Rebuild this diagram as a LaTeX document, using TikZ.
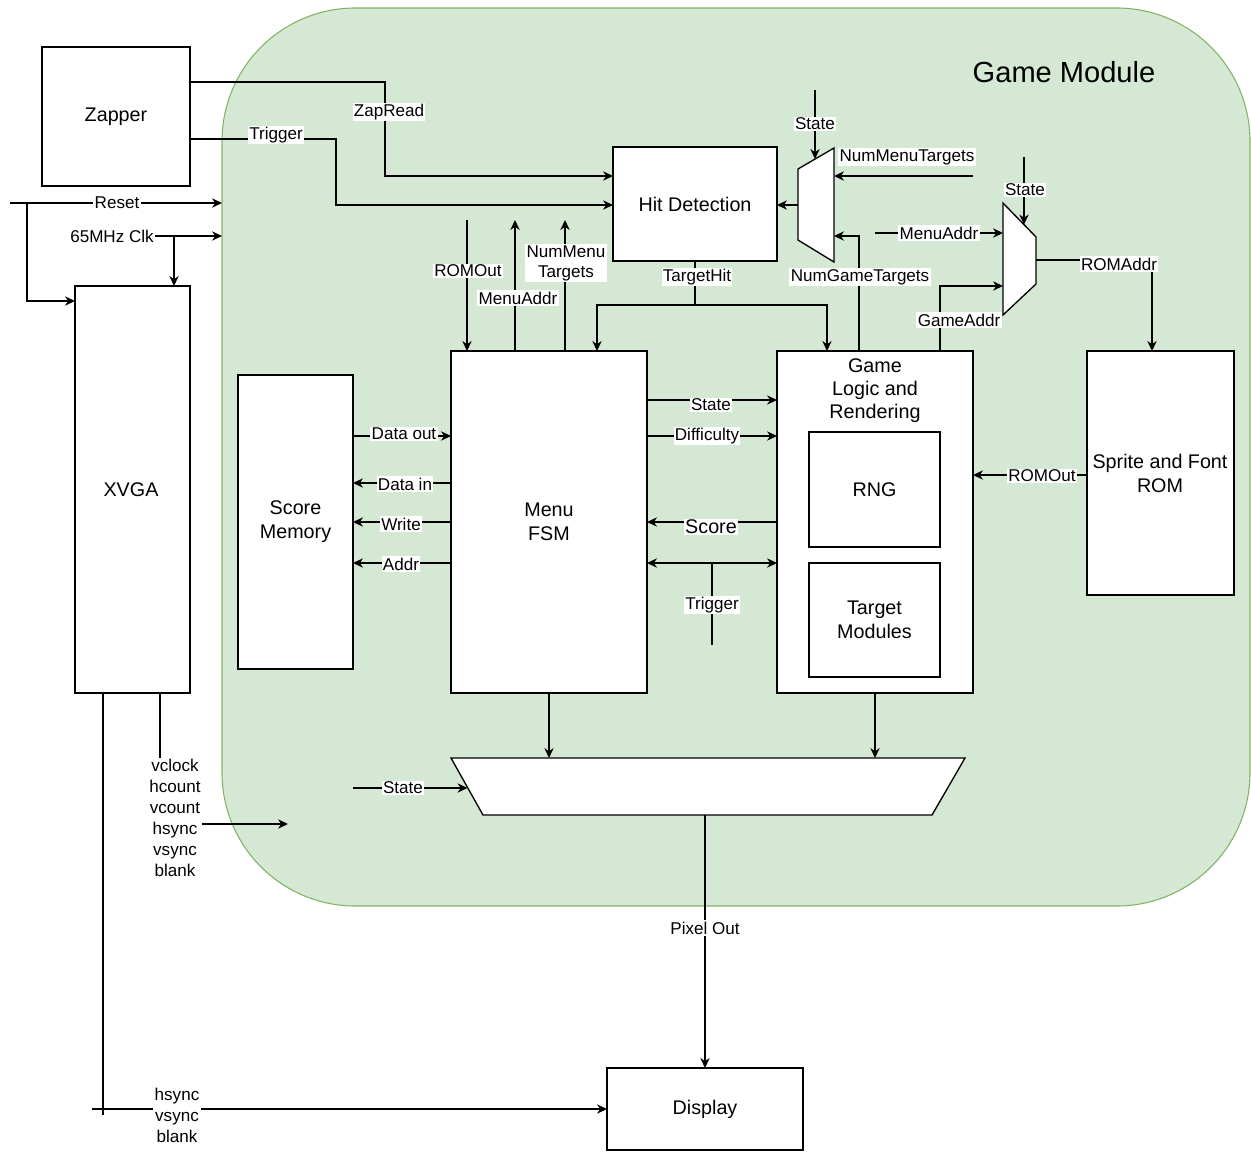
\documentclass[tikz,border=0pt]{standalone}
\usepackage{fontspec}
\setmainfont{Liberation Sans}
\usetikzlibrary{arrows.meta}
\definecolor{gmfill}{HTML}{D5E8D4}
\definecolor{gmline}{HTML}{82B366}
\newcommand{\mainsz}{\fontsize{14.8}{18}\selectfont}
\newcommand{\lblsz}{\fontsize{12.8}{15.5}\selectfont}
\begin{document}
\begin{tikzpicture}[x=0.75pt,y=-0.75pt,
  ln/.style={line width=1pt, draw=black},
  arr/.style={ln, -{Stealth[length=7.5pt,width=7pt]}},
  arrtwo/.style={ln, {Stealth[length=7.5pt,width=7pt]}-{Stealth[length=7.5pt,width=7pt]}},
  box/.style={draw, fill=white, line width=1pt, inner sep=0pt, outer sep=0pt, align=center, font=\mainsz},
  lbl/.style={fill=white, inner sep=1pt, font=\lblsz, align=center},
  txt/.style={inner sep=0pt, align=center, font=\mainsz}]
\useasboundingbox (0,0) rectangle (1251,1153);

% Game module area
\node[draw=gmline, fill=gmfill, rounded corners=100pt, line width=0.8pt, inner sep=0pt, outer sep=0pt,
  minimum width=1028*0.75pt, minimum height=898*0.75pt] (gm) at (736,457) {};
\node[inner sep=0pt, font=\fontsize{21.8}{26}\selectfont] (title) at (1064,72) {Game Module};

% Boxes
\node[box, minimum width=148*0.75pt, minimum height=139*0.75pt] (zap) at (116,116.5) {Zapper};
\node[box, minimum width=115*0.75pt, minimum height=407*0.75pt] (xvga) at (132.5,489.5) {};
\node[txt] (xvgat) at (131,490) {XVGA};
\node[box, minimum width=115*0.75pt, minimum height=294*0.75pt] (score) at (295.5,522) {Score\\Memory};
\node[box, minimum width=196*0.75pt, minimum height=342*0.75pt] (menu) at (549,522) {Menu\\FSM};
\node[box, minimum width=164*0.75pt, minimum height=114*0.75pt] (hit) at (695,204) {Hit Detection};
\node[box, minimum width=196*0.75pt, minimum height=342*0.75pt] (game) at (875,522) {};
\node[txt, font=\fontsize{14.8}{17.3}\selectfont] (gamet) at (875,391) {Game\\Logic and\\Rendering};
\node[box, minimum width=131*0.75pt, minimum height=115*0.75pt] (rng) at (874.5,489.5) {RNG};
\node[box, minimum width=131*0.75pt, minimum height=114*0.75pt] (tgt) at (874.5,620) {Target\\Modules};
\node[box, minimum width=147*0.75pt, minimum height=244*0.75pt] (rom) at (1160.5,473) {};
\node[txt] (romt) at (1160,473) {Sprite and Font\\ROM};
\node[box, minimum width=196*0.75pt, minimum height=82*0.75pt] (disp) at (705,1109) {Display};

% Multiplexers
\coordinate (ma) at (834,148); \coordinate (mb) at (834,262);
\coordinate (mc) at (798,240); \coordinate (md) at (798,169);
\draw[ln, fill=white] (ma) -- (mb) -- (mc) -- (md) -- cycle;
\coordinate (na) at (1003,203); \coordinate (nb) at (1036,237);
\coordinate (nc) at (1036,284); \coordinate (nd) at (1003,315);
\draw[ln, fill=white] (na) -- (nb) -- (nc) -- (nd) -- cycle;
\coordinate (pa) at (451,758); \coordinate (pb) at (965,758);
\coordinate (pc) at (932,815); \coordinate (pd) at (483,815);
\draw[ln, fill=white] (pa) -- (pb) -- (pc) -- (pd) -- cycle;

% Zapper signals
\draw[arr] (zap.east |- 0,82) -| (385,176) -- (hit.west |- 0,176);
\node[lbl] (lzap) at (389,112) {ZapRead};
\draw[arr] (zap.east |- 0,139) -| (336,205) -- (hit.west |- 0,205);
\node[lbl] (ltrig) at (276,135) {Trigger};

% Reset and clock
\coordinate (rstin) at (10,203);
\draw[arr] (rstin) -- (gm.west |- 0,203);
\node[lbl] (lrst) at (117,203) {Reset};
\draw[arr] (27,203) |- (xvga.west |- 0,301);
\node[lbl] (lclk) at (112,236) {65MHz Clk};
\draw[arr] (lclk.east) -- (gm.west |- lclk.east);
\draw[arr] (174,236) -- (xvga.north -| 174,0);

% XVGA outputs
\coordinate (vgaend) at (288,824);
\draw[arr] (xvga.south -| 160,0) |- (vgaend);
\node[lbl, font=\fontsize{12.8}{15.8}\selectfont] (lvga) at (175,818) {vclock\\hcount\\vcount\\hsync\\vsync\\blank};
\draw[ln] (xvga.south -| 103,0) -- (103,1115);
\coordinate (syncin) at (92,1109);
\draw[arr] (syncin) -- (disp.west);
\node[lbl, font=\fontsize{12.8}{15.8}\selectfont] (lsync) at (177,1115) {hsync\\vsync\\blank};

% Pixel out
\coordinate (pixout) at (705,815);
\draw[arr] (pixout) -- (disp.north);
\node[lbl] (lpix) at (705,928) {Pixel Out};

% Into output mux
\draw[arr] (menu.south) -- (menu.south |- pa);
\draw[arr] (game.south) -- (game.south |- pa);
\coordinate (st3) at (353,788); \coordinate (st3e) at (467.5,788);
\draw[arr] (st3) -- (st3e);
\node[lbl] (lst3) at (403,788) {State};

% Target hit
\coordinate (thj) at (695,305);
\draw[ln] (hit.south) -- (thj);
\draw[arr] (thj) -| (menu.north -| 597,0);
\draw[arr] (thj) -| (game.north -| 827,0);
\node[lbl] (lth) at (697,277) {TargetHit};

% Menu FSM top signals
\draw[arr] (467,220) -- (menu.north -| 467,0);
\node[lbl] (lro1) at (468,271) {ROMOut};
\draw[arr] (menu.north -| 515,0) -- (515,220);
\node[lbl] (lma1) at (518,298) {MenuAddr};
\draw[arr] (menu.north -| 565,0) -- (565,220);
\node[lbl, font=\fontsize{12.8}{15}\selectfont] (lnmt1) at (566,263) {NumMenu\\Targets};

% Mux 1
\draw[arr] (798,205) -- (hit.east |- 0,205);
\draw[arr] (815,90) -- (815,159);
\node[lbl] (lst1) at (815,124) {State};
\draw[arr] (973,176) -- (834,176);
\node[lbl] (lnmt2) at (907,157) {NumMenuTargets};
\draw[arr] (game.north -| 859,0) |- (834,236);
\node[lbl] (lngt) at (860,277) {NumGameTargets};

% Mux 2
\draw[arr] (875,233) -- (1003,233);
\node[lbl] (lma2) at (939,233) {MenuAddr};
\draw[arr] (game.north -| 940,0) |- (1003,286);
\node[lbl] (lga) at (959,320) {GameAddr};
\draw[arr] (1024,157) -- (1024,224.5);
\node[lbl] (lst2) at (1025,190) {State};
\draw[arr] (1036,260) -| (rom.north -| 1152,0);
\node[lbl] (lra) at (1119,264) {ROMAddr};
\draw[arr] (rom.west |- 0,475) -- (game.east |- 0,475);
\node[lbl] (lro2) at (1042,476) {ROMOut};

% Menu FSM <-> Game logic
\draw[arr] (menu.east |- 0,400) -- (game.west |- 0,400);
\node[lbl] (lst4) at (711,405) {State};
\draw[arr] (menu.east |- 0,436) -- (game.west |- 0,436);
\node[lbl] (ldiff) at (707,436) {Difficulty};
\draw[arr] (game.west |- 0,522) -- (menu.east |- 0,522);
\node[lbl, font=\mainsz] (lscore) at (711,527) {Score};
\draw[arrtwo] (menu.east |- 0,563) -- (game.west |- 0,563);
\draw[ln] (712,563) -- (712,645);
\node[lbl] (ltrig2) at (712,605) {Trigger};

% Menu FSM <-> Score memory
\draw[arr] (score.east |- 0,436) -- (menu.west |- 0,436);
\node[lbl] (ldo) at (404,434) {Data out};
\draw[arr] (menu.west |- 0,483) -- (score.east |- 0,483);
\node[lbl] (ldi) at (405,484) {Data in};
\draw[arr] (menu.west |- 0,522) -- (score.east |- 0,522);
\node[lbl] (lwr) at (401,524) {Write};
\draw[arr] (menu.west |- 0,563) -- (score.east |- 0,563);
\node[lbl] (laddr) at (401,564) {Addr};
\end{tikzpicture}
\end{document}
